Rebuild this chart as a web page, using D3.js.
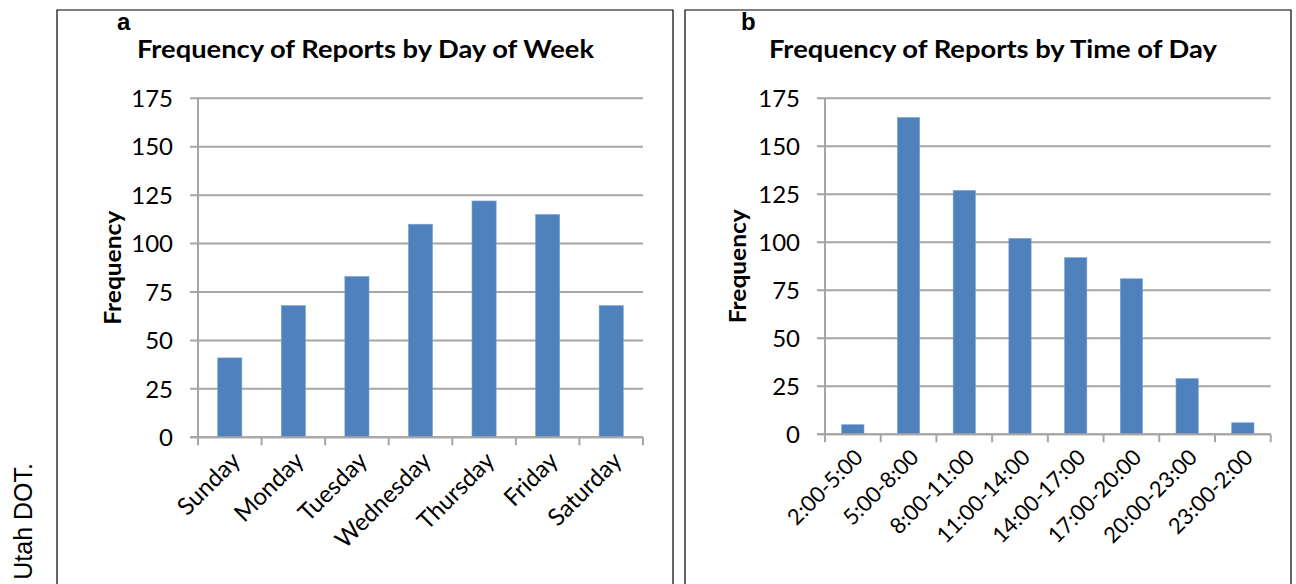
<!DOCTYPE html>
<html>
<head>
<meta charset="utf-8">
<script src="https://cdn.jsdelivr.net/npm/d3@7"></script>
<style>
  html, body { margin: 0; padding: 0; background: #fff; }
  svg { display: block; }
  text { font-family: Lato, "Open Sans", sans-serif; fill: #000; }
</style>
</head>
<body>
<svg id="chart" width="1296" height="584"></svg>
<script>
// ---- data ----
const dayCategories = ["Sunday", "Monday", "Tuesday", "Wednesday", "Thursday", "Friday", "Saturday"];
const dayValues = [41, 68, 83, 110, 122, 115, 68];
const timeCategories = ["2:00-5:00", "5:00-8:00", "8:00-11:00", "11:00-14:00", "14:00-17:00", "17:00-20:00", "20:00-23:00", "23:00-2:00"];
const timeValues = [5, 165, 127, 102, 92, 81, 29, 6];
const yTickValues = [0, 25, 50, 75, 100, 125, 150, 175];
const titles = ["Frequency of Reports by Day of Week", "Frequency of Reports by Time of Day"];
const panelLetters = ["a", "b"];
const yAxisTitle = "Frequency";
const sideNote = "Utah DOT.";

const svg = d3.select("#chart");
const barColor = "#4f81bd";
const gridColor = "#a6a6a6";

// side note text
svg.append("text")
  .attr("transform", "translate(32,463) rotate(-90)")
  .attr("text-anchor", "end")
  .style("font-family", "'Liberation Sans', Arial, sans-serif")
  .style("font-size", "25px")
  .text(sideNote);

function drawPanel(cfg) {
  const g = svg.append("g");
  // panel border
  g.append("path")
    .attr("d", `M${cfg.box[0]},600 V${cfg.box[1]} H${cfg.box[2]} V600`)
    .attr("fill", "none").attr("stroke", "#000").attr("stroke-width", 1.2);

  const x = d3.scaleBand().domain(cfg.categories)
    .range([cfg.x0, cfg.x1]).paddingInner(cfg.pad).paddingOuter(cfg.pad / 2);
  const y = d3.scaleLinear().domain([0, 175]).range([cfg.y0, cfg.y1]);

  // gridlines + y ticks
  g.append("g").selectAll("line").data(yTickValues).join("line")
    .attr("x1", cfg.x0 - 8).attr("x2", cfg.x1)
    .attr("y1", d => y(d)).attr("y2", d => y(d))
    .attr("stroke", gridColor).attr("stroke-width", 2);

  // y axis line
  g.append("line").attr("x1", cfg.x0).attr("x2", cfg.x0)
    .attr("y1", y(0)).attr("y2", y(175))
    .attr("stroke", gridColor).attr("stroke-width", 2);

  // y tick labels
  g.append("g").selectAll("text").data(yTickValues).join("text")
    .attr("x", cfg.x0 - 25).attr("y", d => y(d))
    .attr("dy", "0.36em").attr("text-anchor", "end")
    .style("font-size", "24px")
    .text(d => d);

  // bars
  g.append("g").selectAll("rect").data(cfg.values).join("rect")
    .attr("x", (d, i) => x(cfg.categories[i]))
    .attr("width", x.bandwidth())
    .attr("y", d => y(d))
    .attr("height", d => y(0) - y(d))
    .attr("fill", barColor)
    .attr("stroke", "#7ea3d3").attr("stroke-width", 0.6);

  // x axis line + ticks at category boundaries
  g.append("line").attr("x1", cfg.x0 - 8).attr("x2", cfg.x1)
    .attr("y1", y(0)).attr("y2", y(0))
    .attr("stroke", gridColor).attr("stroke-width", 2);
  const step = x.step();
  const bounds = d3.range(cfg.categories.length + 1).map(i => cfg.x0 + i * step);
  g.append("g").selectAll("line").data(bounds).join("line")
    .attr("x1", d => d).attr("x2", d => d)
    .attr("y1", y(0)).attr("y2", y(0) + 8)
    .attr("stroke", gridColor).attr("stroke-width", 2);

  // x labels rotated
  g.append("g").selectAll("text").data(cfg.categories).join("text")
    .attr("transform", d => `translate(${x(d) + x.bandwidth() / 2 + 6},${y(0) + 19}) rotate(-45)`)
    .attr("text-anchor", "end")
    .attr("dy", "0.35em")
    .style("font-size", cfg.xLabelSize)
    .text(d => d);

  // y axis title
  g.append("text")
    .attr("transform", `translate(${cfg.yTitleX},${(y(0) + y(175)) / 2}) rotate(-90)`)
    .attr("text-anchor", "middle")
    .style("font-size", "23px").style("font-weight", "bold")
    .attr("textLength", 114).attr("lengthAdjust", "spacingAndGlyphs")
    .text(yAxisTitle);

  // title
  g.append("text")
    .attr("x", cfg.titleX).attr("y", 58)
    .attr("text-anchor", "middle")
    .style("font-size", "25px").style("font-weight", "bold")
    .attr("textLength", cfg.titleLen).attr("lengthAdjust", "spacingAndGlyphs")
    .text(cfg.title);

  // panel letter
  g.append("text")
    .attr("x", cfg.letterX).attr("y", 30)
    .style("font-family", "'Liberation Sans', Arial, sans-serif")
    .style("font-size", "24px").style("font-weight", "bold")
    .text(cfg.letter);
}

drawPanel({
  box: [57, 10, 673], categories: dayCategories, values: dayValues,
  x0: 198, x1: 643, y0: 437.3, y1: 98.3, pad: 0.62,
  yTitleX: 121, titleX: 365.5, titleLen: 457, title: titles[0],
  letterX: 117, letter: panelLetters[0], xLabelSize: "24px"
});
drawPanel({
  box: [685, 10, 1291], categories: timeCategories, values: timeValues,
  x0: 825, x1: 1270.7, y0: 434.3, y1: 98.3, pad: 0.6,
  yTitleX: 746, titleX: 993, titleLen: 448, title: titles[1],
  letterX: 741, letter: panelLetters[1], xLabelSize: "22px"
});
</script>
</body>
</html>
